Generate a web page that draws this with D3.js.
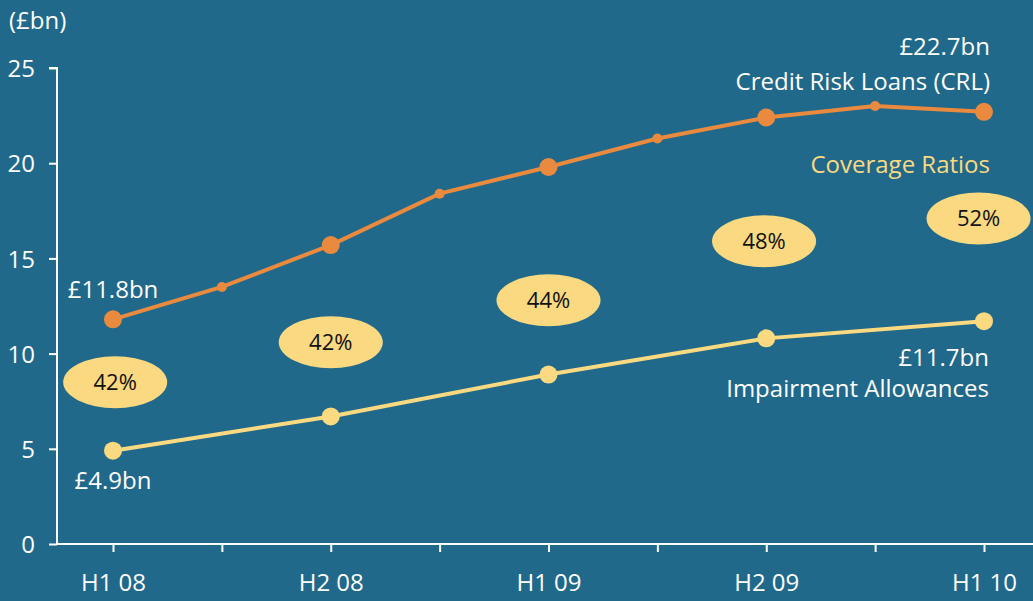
<!DOCTYPE html>
<html><head><meta charset="utf-8">
<script src="https://cdn.jsdelivr.net/npm/d3@7"></script>
<style>html,body{margin:0;padding:0;background:#20698a;}svg{display:block;}</style>
</head><body>
<svg id="c" width="1033" height="601"></svg>
<script>
const periods = ["H1 08","Q3 08","H2 08","Q1 09","H1 09","Q3 09","H2 09","Q1 10","H1 10"];
const tickLabels = ["H1 08","","H2 08","","H1 09","","H2 09","","H1 10"];
const crl = [11.8, 13.5, 15.7, 18.4, 19.8, 21.3, 22.4, 23.0, 22.7];
const impairIdx = [0, 2, 4, 6, 8];
const impair = [4.9, 6.7, 8.9, 10.8, 11.7];
const coverage = ["42%","42%","44%","48%","52%"];
const coveragePos = [[0.02,8.5],[2.0,10.6],[4.0,12.8],[5.98,15.9],[7.95,17.1]];
const yTicks = [0,5,10,15,20,25];

const W=1033,H=601;
const svg=d3.select("#c");
const font="'Open Sans', sans-serif";
const fs="24px";
const white="#ffffff", orange="#ea8a3e", yellow="#fad980";
svg.append("rect").attr("width",W).attr("height",H).attr("fill","#20698a");

const x=d3.scaleLinear().domain([0,8]).range([113,984]);
const y=d3.scaleLinear().domain([0,25]).range([544,68]);

// y axis
const ya=svg.append("g").attr("transform","translate(57,0)")
  .call(d3.axisLeft(y).tickValues(yTicks).tickSize(8).tickPadding(14).tickFormat(d3.format("d")));
ya.select(".domain").attr("stroke",white).attr("stroke-width",2).attr("d","M-8,"+y(25)+"H0V"+y(0));
ya.selectAll(".tick line").attr("stroke",white).attr("stroke-width",2);
ya.selectAll(".tick text").attr("fill",white).style("font-family",font).style("font-size",fs).attr("dy","0.36em");

// x axis
const xa=svg.append("g").attr("transform","translate(0,"+y(0)+")")
  .call(d3.axisBottom(x).tickValues(d3.range(9)).tickSize(8).tickPadding(22).tickFormat(i=>tickLabels[i]));
xa.select(".domain").attr("stroke",white).attr("stroke-width",2).attr("d","M56,0H"+W);
xa.selectAll(".tick line").attr("stroke",white).attr("stroke-width",2);
xa.selectAll(".tick text").attr("fill",white).style("font-family",font).style("font-size",fs);

// unit label
svg.append("text").attr("x",9).attr("y",29).text("(£bn)").attr("fill",white)
  .style("font-family",font).style("font-size",fs);

// CRL line
const line=d3.line().x(d=>x(d[0])).y(d=>y(d[1]));
const crlPts=crl.map((v,i)=>[i,v]);
svg.append("path").attr("d",line(crlPts)).attr("fill","none").attr("stroke",orange).attr("stroke-width",4);
svg.selectAll(".crlDot").data(crlPts).enter().append("circle")
  .attr("cx",d=>x(d[0])).attr("cy",d=>y(d[1])).attr("r",d=>d[0]%2===0?9:5).attr("fill",orange);

// Impairment line
const impPts=impair.map((v,i)=>[impairIdx[i],v]);
svg.append("path").attr("d",line(impPts)).attr("fill","none").attr("stroke",yellow).attr("stroke-width",4);
svg.selectAll(".impDot").data(impPts).enter().append("circle")
  .attr("cx",d=>x(d[0])).attr("cy",d=>y(d[1])).attr("r",9).attr("fill",yellow);

// coverage ellipses
const cg=svg.selectAll(".cov").data(coverage).enter().append("g")
  .attr("transform",(d,i)=>"translate("+x(coveragePos[i][0])+","+y(coveragePos[i][1])+")");
cg.append("ellipse").attr("rx",52).attr("ry",26).attr("fill",yellow);
cg.append("text").text(d=>d).attr("text-anchor","middle").attr("dy","0.36em").attr("fill","#111")
  .style("font-family",font).style("font-size","22px");

// annotations
function label(t,xx,yy,anchor,col){
  svg.append("text").attr("x",xx).attr("y",yy).attr("text-anchor",anchor).text(t).attr("fill",col||white)
    .style("font-family",font).style("font-size",fs);
}
label("£11.8bn",x(0),298,"middle");
label("£4.9bn",x(0),489,"middle");
label("£22.7bn",990,55,"end");
label("Credit Risk Loans (CRL)",990,90,"end");
label("Coverage Ratios",990,173,"end",yellow);
label("£11.7bn",989,366,"end");
label("Impairment Allowances",989,397,"end");
</script>
</body></html>
